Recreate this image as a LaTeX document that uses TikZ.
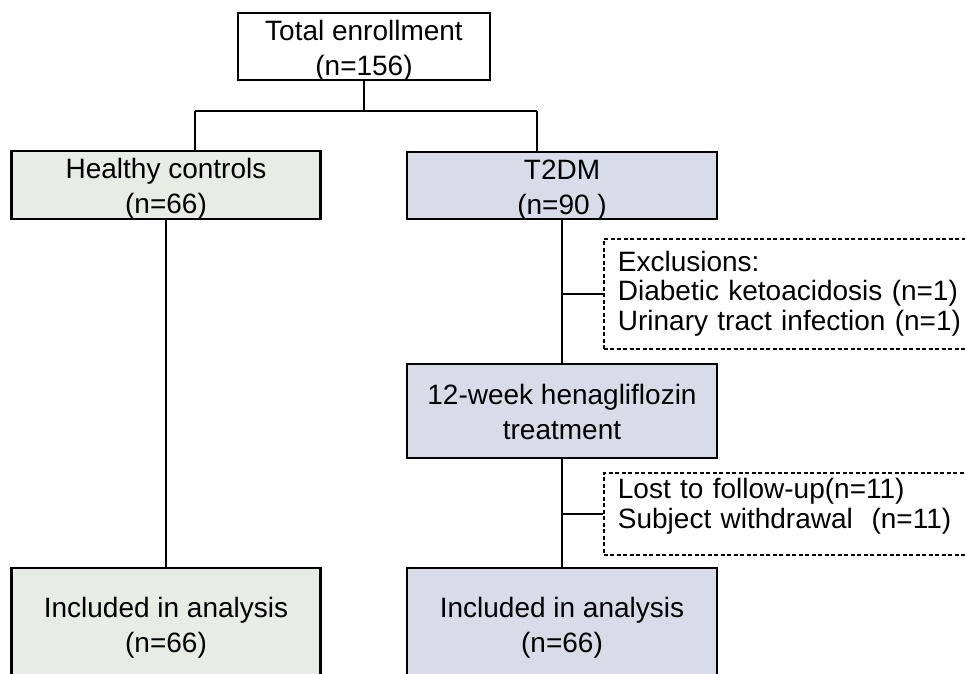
\documentclass[tikz,border=0pt]{standalone}
\usepackage{fontspec}
\setmainfont{Liberation Sans}
\definecolor{hcfill}{RGB}{231,236,229}
\definecolor{tdfill}{RGB}{216,220,232}
\begin{document}
\begin{tikzpicture}[x=1pt,y=-1pt,
  box/.style={draw=black, line width=2.8pt, inner sep=0pt, align=center, text height=57pt, text depth=0pt, font=\fontsize{28}{35}\selectfont},
  dbox/.style={draw=black, line width=1.8pt, dash pattern=on 4pt off 2.5pt, anchor=west, text width=358pt, align=left, inner xsep=14pt, inner ysep=0pt, text height=0pt, font=\fontsize{28}{29.5}\selectfont},
  conn/.style={line width=1.9pt}]
\useasboundingbox (0,0) rectangle (965,673);
\clip (0,0) rectangle (965,673);
\fill[white] (0,0) rectangle (965,673);
% boxes
\node[box, minimum width=252pt, minimum height=67pt] (total) at (364,46.5) {Total enrollment\\(n=156)};
\node[box, fill=hcfill, minimum width=309pt, minimum height=68pt] (hc) at (166,185) {Healthy controls\\(n=66)};
\node[box, fill=tdfill, minimum width=310pt, minimum height=67pt] (t2) at (562,185.5) {T2DM\\(n=90 )};
\node[box, fill=tdfill, minimum width=310pt, minimum height=94pt] (trt) at (562,411) {12-week henagliflozin\\treatment};
\node[box, fill=hcfill, minimum width=309pt, minimum height=111pt] (inc1) at (166,623.5) {Included in analysis\\(n=66)};
\node[box, fill=tdfill, minimum width=310pt, minimum height=111pt] (inc2) at (562,623.5) {Included in analysis\\(n=66)};
\node[dbox, minimum height=110pt, text depth=46pt] (excl) at (603,294) {Exclusions:\\Diabetic ketoacidosis (n=1)\\Urinary tract infection (n=1)};
\node[dbox, minimum height=82pt, text depth=31pt] (lost) at (603,514) {Lost to follow-up(n=11)\\Subject withdrawal\ \ (n=11)};
% connectors
\coordinate (split) at (364,111);
\coordinate (sl) at (195,111);
\coordinate (sr) at (537,111);
\draw[conn] (total.south) -- (split);
\draw[conn] (sl) -- (sr);
\draw[conn] (sl) -- (sl |- hc.north);
\draw[conn] (sr) -- (sr |- t2.north);
\draw[conn] (hc.south) -- (inc1.north);
\draw[conn] (t2.south) -- (trt.north);
\draw[conn] (trt.south) -- (inc2.north);
\draw[conn] (excl.west) -- (excl.west -| t2.south);
\draw[conn] (lost.west) -- (lost.west -| trt.south);
\end{tikzpicture}
\end{document}
